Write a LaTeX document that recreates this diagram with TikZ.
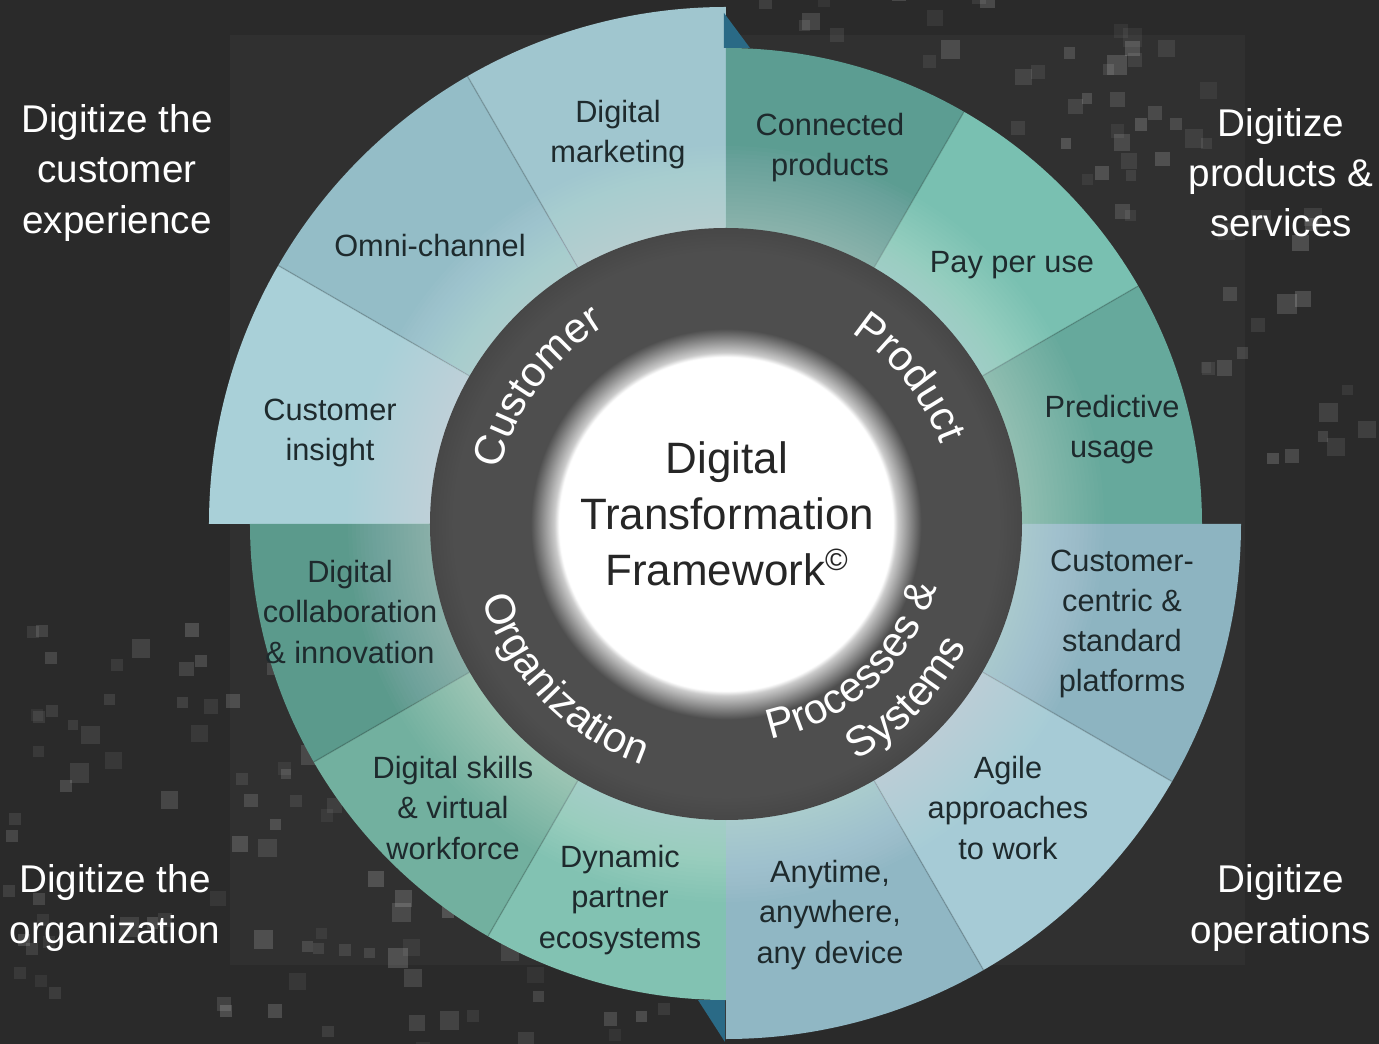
\documentclass[tikz,border=0pt]{standalone}
\usepackage{fontspec}
\setmainfont{Liberation Sans}
\usepackage{tikz}

\definecolor{bgdark}{HTML}{2A2A2A}
\definecolor{bgpanel}{HTML}{303030}
\definecolor{celltext}{HTML}{1E2A2D}
\definecolor{hubgray}{HTML}{4E4E4E}
\definecolor{hubedge}{HTML}{474747}
\definecolor{cinsight}{HTML}{A9D0D8}
\definecolor{comni}{HTML}{94BDC7}
\definecolor{cmarket}{HTML}{A0C6CF}
\definecolor{pconn}{HTML}{5C9D92}
\definecolor{ppay}{HTML}{79C0B1}
\definecolor{ppred}{HTML}{66A99C}
\definecolor{scentric}{HTML}{8DB4C1}
\definecolor{sagile}{HTML}{A6CBD6}
\definecolor{sany}{HTML}{90B7C4}
\definecolor{ocollab}{HTML}{5B9A8C}
\definecolor{oskills}{HTML}{72B09F}
\definecolor{opartner}{HTML}{82C2B2}
\definecolor{edgeblue}{HTML}{2A6A86}

\pgfdeclareradialshading{hubglow}{\pgfpointorigin}{color(0bp)=(white); color(14.1bp)=(white); color(14.5bp)=(white!70!hubgray); color(16.5bp)=(hubgray); color(23bp)=(hubgray); color(25bp)=(hubedge); color(50bp)=(hubedge)}

\newcommand{\wedgecell}[4]{\fill[#4] (0,0) -- (#1:#3) arc[start angle=#1, end angle=#2, radius=#3] -- cycle;}
\newcommand{\ringfont}{\fontsize{24}{28}\selectfont}
% radius, middle angle, +1 clockwise / -1 anticlockwise, name, letter/width pairs
\newcommand{\arcword}[5]{%
  \xdef\arctot{0}%
  \foreach \ch/\w in {#5}{%
    \pgfmathparse{\arctot+\w*0.024}\xdef\arctot{\pgfmathresult}}%
  \xdef\arcpos{0}%
  \foreach \ch/\w [count=\i] in {#5}{%
    \pgfmathsetmacro\chang{#2+(#3)*57.2958/(#1*0.569055)*(\arctot/2-\arcpos-\w*0.012)}%
    \pgfmathsetmacro\chrot{\chang-90*(#3)}%
    \node[ringletter, rotate=\chrot, anchor=base] (#4\i) at (\chang:#1) {\ch};%
    \pgfmathparse{\arcpos+\w*0.024}\xdef\arcpos{\pgfmathresult}}%
}

\begin{document}
\begin{tikzpicture}[x=0.02cm, y=0.02cm,
  cell/.style={text=celltext, font=\fontsize{17.5}{22.8}\selectfont, align=center},
  side/.style={text=white, font=\fontsize{22}{28.5}\selectfont, align=center},
  hub/.style={text=black!85, font=\fontsize{25}{32}\selectfont, align=center},
  ringletter/.style={text=white, font=\ringfont, inner sep=0pt},
  divline/.style={draw=black, opacity=0.16, line width=0.8pt},
  pixel/.style={fill=white}]
\useasboundingbox (-726,-520) rectangle (653,524);
\fill[bgdark] (-726,-520) rectangle (653,524);
\fill[bgpanel] (-496,489) rectangle (519,-441);

\pgfmathsetseed{31}
\foreach \k in {1,...,75}{
  \pgfmathsetmacro\pang{6+82*rnd}
  \pgfmathsetmacro\prad{482+180*rnd}
  \pgfmathsetmacro\psz{10+10*rnd}
  \pgfmathsetmacro\pop{0.05+0.12*rnd}
  \fill[pixel, opacity=\pop] (\pang:\prad) rectangle ++(\psz,\psz);
}
\foreach \k in {1,...,80}{
  \pgfmathsetmacro\pang{186+80*rnd}
  \pgfmathsetmacro\prad{482+260*rnd}
  \pgfmathsetmacro\psz{10+10*rnd}
  \pgfmathsetmacro\pop{0.05+0.12*rnd}
  \fill[pixel, opacity=\pop] (\pang:\prad) rectangle ++(\psz,\psz);
}
\foreach \k in {1,...,18}{
  \pgfmathsetmacro\ppx{-724+60*rnd}
  \pgfmathsetmacro\ppy{-500+400*rnd}
  \pgfmathsetmacro\pop{0.05+0.10*rnd}
  \fill[pixel, opacity=\pop] (\ppx,\ppy) rectangle ++(12,12);
}

\wedgecell{150}{180}{517}{cinsight}
\wedgecell{120}{150}{517}{comni}
\wedgecell{90}{120}{517}{cmarket}
\wedgecell{60}{90}{476}{pconn}
\wedgecell{30}{60}{476}{ppay}
\wedgecell{0}{30}{476}{ppred}
\wedgecell{-30}{0}{515}{scentric}
\wedgecell{-60}{-30}{515}{sagile}
\wedgecell{-90}{-60}{515}{sany}
\wedgecell{-120}{-90}{476}{opartner}
\wedgecell{-150}{-120}{476}{oskills}
\wedgecell{-180}{-150}{476}{ocollab}

\foreach \a in {120,150} \draw[divline] (\a:296) -- (\a:517);
\foreach \a in {30,60} \draw[divline] (\a:296) -- (\a:476);
\foreach \a in {-30,-60} \draw[divline] (\a:296) -- (\a:515);
\foreach \a in {-120,-150} \draw[divline] (\a:296) -- (\a:476);

\fill[edgeblue] (-2,511) -- (-2,476) -- (24,476) -- cycle;
\fill[edgeblue] (-28,-476) -- (-1,-476) -- (-1,-518) -- cycle;

\foreach \rr in {298,302,...,378} \fill[white, opacity=0.018] (0,0) circle (\rr);
\shade[shading=hubglow] (0,0) circle (296);

\arcword{232}{144}{1}{cust}{C/722,u/556,s/500,t/278,o/556,m/833,e/556,r/333}
\arcword{229}{38.6}{1}{prod}{P/667,r/333,o/556,d/556,u/556,c/500,t/278}
\arcword{255}{224}{-1}{org}{O/778,r/333,g/556,a/556,n/556,i/222,z/500,a/556,t/278,i/222,o/556,n/556}
\arcword{220}{-47.6}{-1}{proc}{P/667,r/333,o/556,c/500,e/556,s/500,s/500,e/556,s/500,{\ }/278,\&/667}
\arcword{270}{-44}{-1}{sys}{S/667,y/500,s/500,t/278,e/556,m/833,s/500}

\node[hub] (dtf) at (1,10) {Digital\\Transformation\\Framework\textsuperscript{©}};

\node[cell] (digmarketing) at (-108,389) {Digital\\marketing};
\node[cell] (omnichannel) at (-296,278) {Omni-channel};
\node[cell] (custinsight) at (-396,91) {Customer\\insight};
\node[cell] (connproducts) at (104,376) {Connected\\products};
\node[cell] (payperuse) at (286,259) {Pay per use};
\node[cell] (predusage) at (386,94) {Predictive\\usage};
\node[cell] (platforms) at (396,-100) {Customer-\\centric \&\\standard\\platforms};
\node[cell] (agile) at (282,-284) {Agile\\approaches\\to work};
\node[cell] (anytime) at (104,-391) {Anytime,\\anywhere,\\any device};
\node[cell] (partners) at (-106,-376) {Dynamic\\partner\\ecosystems};
\node[cell] (skills) at (-273,-284) {Digital skills\\\& virtual\\workforce};
\node[cell] (collab) at (-376,-88) {Digital\\collaboration\\\& innovation};

\node[side] (dcustomer) at (-609,351) {Digitize the\\customer\\experience};
\node[side] (dproducts) at (555,351) {Digitize\\products \&\\services};
\node[side] (dorganization) at (-611,-384) {Digitize the\\organization};
\node[side] (doperations) at (555,-384) {Digitize\\operations};
\end{tikzpicture}
\end{document}
